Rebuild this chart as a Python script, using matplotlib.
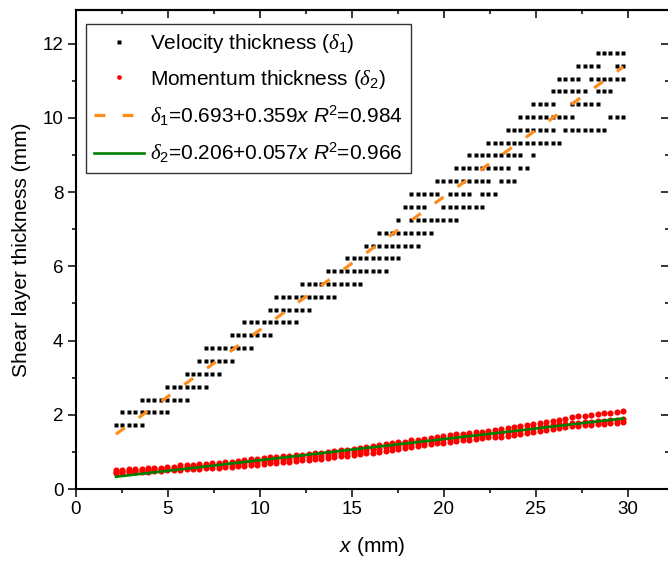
import numpy as np
import matplotlib
matplotlib.use("Agg")
import matplotlib.pyplot as plt
from matplotlib.ticker import MultipleLocator

plt.rcParams['font.family'] = ['Liberation Sans', 'DejaVu Sans']
plt.rcParams['mathtext.fontset'] = 'custom'
plt.rcParams['mathtext.rm'] = 'Liberation Sans'
plt.rcParams['mathtext.it'] = 'Liberation Serif:italic'
plt.rcParams['mathtext.sf'] = 'Liberation Sans:italic'
plt.rcParams['mathtext.bf'] = 'Liberation Sans:bold'

# ---------------- data ----------------
# streamwise sampling positions (mm), 80 columns
x_cols = np.round(2.19 + 0.349 * np.arange(80), 3)

# velocity thickness: quantized levels (mm) and column index ranges present on each level
vel_levels = [1.72, 2.07, 2.41, 2.76, 3.10, 3.45, 3.80, 4.14, 4.49, 4.83,
              5.18, 5.53, 5.87, 6.22, 6.56, 6.91, 7.26, 7.60, 7.95, 8.29,
              8.64, 8.99, 9.33, 9.68, 10.02, 10.37, 10.72, 11.06, 11.41, 11.75]
vel_segments = [
    [(0, 4)], [(1, 8)], [(4, 11)], [(8, 14)], [(11, 16)],
    [(13, 18)], [(14, 21)], [(18, 24)], [(20, 28)], [(24, 30)],
    [(25, 34)], [(29, 38)], [(33, 42)], [(36, 44)], [(39, 47)],
    [(41, 49)], [(44, 44), (46, 53)], [(45, 48), (51, 57)],
    [(46, 50), (52, 55), (57, 59)], [(50, 58), (60, 62)],
    [(53, 61), (63, 64)], [(55, 63), (65, 65)], [(58, 69)],
    [(61, 68), (70, 76)], [(63, 71), (77, 79)], [(65, 68), (71, 75)],
    [(68, 73), (75, 77)], [(69, 72), (74, 79)], [(72, 75), (78, 79)],
    [(75, 79)],
]

# momentum thickness: bottom / middle / top of the scatter in each column (mm)
mom_low = [0.43, 0.44, 0.45, 0.45, 0.46, 0.47, 0.48, 0.49, 0.50, 0.51,
           0.52, 0.53, 0.54, 0.55, 0.56, 0.57, 0.58, 0.59, 0.60, 0.62,
           0.63, 0.64, 0.66, 0.67, 0.69, 0.70, 0.72, 0.73, 0.75, 0.77,
           0.78, 0.80, 0.82, 0.84, 0.86, 0.88, 0.90, 0.92, 0.94, 0.96,
           0.98, 1.00, 1.03, 1.05, 1.08, 1.10, 1.13, 1.15, 1.18, 1.20,
           1.23, 1.25, 1.27, 1.29, 1.31, 1.33, 1.35, 1.37, 1.39, 1.40,
           1.41, 1.44, 1.46, 1.49, 1.51, 1.54, 1.57, 1.59, 1.62, 1.65,
           1.67, 1.69, 1.70, 1.72, 1.73, 1.75, 1.76, 1.77, 1.79, 1.80]
mom_mid = [0.47, 0.48, 0.49, 0.50, 0.51, 0.52, 0.53, 0.54, 0.55, 0.56,
           0.58, 0.59, 0.60, 0.61, 0.62, 0.64, 0.65, 0.66, 0.67, 0.69,
           0.71, 0.72, 0.74, 0.75, 0.77, 0.78, 0.80, 0.81, 0.83, 0.85,
           0.86, 0.88, 0.90, 0.92, 0.94, 0.96, 0.98, 1.00, 1.03, 1.05,
           1.07, 1.09, 1.12, 1.14, 1.17, 1.19, 1.22, 1.24, 1.27, 1.29,
           1.32, 1.34, 1.36, 1.38, 1.40, 1.42, 1.44, 1.46, 1.48, 1.50,
           1.51, 1.54, 1.57, 1.60, 1.62, 1.65, 1.68, 1.70, 1.73, 1.76,
           1.76, 1.78, 1.79, 1.80, 1.81, 1.83, 1.84, 1.85, 1.86, 1.88]
mom_high = [0.51, 0.52, 0.53, 0.54, 0.55, 0.56, 0.57, 0.58, 0.59, 0.60,
            0.64, 0.65, 0.66, 0.67, 0.68, 0.70, 0.71, 0.72, 0.74, 0.76,
            0.79, 0.80, 0.82, 0.83, 0.85, 0.86, 0.88, 0.89, 0.91, 0.92,
            0.94, 0.96, 0.98, 1.00, 1.02, 1.04, 1.06, 1.08, 1.11, 1.13,
            1.16, 1.18, 1.21, 1.23, 1.26, 1.28, 1.31, 1.33, 1.36, 1.38,
            1.41, 1.43, 1.45, 1.47, 1.49, 1.51, 1.53, 1.55, 1.57, 1.59,
            1.61, 1.64, 1.67, 1.70, 1.72, 1.75, 1.78, 1.81, 1.84, 1.87,
            1.90, 1.93, 1.96, 1.98, 2.00, 2.02, 2.04, 2.06, 2.08, 2.11]

# linear fits
fit1 = (0.693, 0.359)
fit2 = (0.206, 0.057)

# ---------------- figure ----------------
fig = plt.figure(figsize=(6.68, 5.63), dpi=100)
ax = fig.add_axes([0.1133, 0.1314, 0.8882, 0.8515])

vx, vy = [], []
for lev, segs in zip(vel_levels, vel_segments):
    for a, b in segs:
        for k in range(a, b + 1):
            vx.append(x_cols[k])
            vy.append(lev)

mx = np.concatenate([x_cols, x_cols, x_cols])
my = np.concatenate([mom_low, mom_mid, mom_high])

ax.plot(mx, my, linestyle='none', marker='o', ms=4.4, mec='none', mfc='#ff0000',
        zorder=3)
# vertical extent of each column's scatter (excluding the detached upper points)
ax.vlines(x_cols, mom_low, mom_mid, colors='#ff0000', lw=3.0, zorder=3)
h_red, = ax.plot([], [], linestyle='none', marker='o', ms=3.4, mec='none', mfc='#ff0000')
ax.plot(vx, vy, linestyle='none', marker='s', ms=2.8, mec='none', mfc='black', zorder=3)
h_blk, = ax.plot([], [], linestyle='none', marker='s', ms=2.8, mec='none', mfc='black')

xf = np.array([x_cols[0], x_cols[-1]])
h_or, = ax.plot(xf, fit1[0] + fit1[1] * xf, color='#ff8c1a', lw=2.3,
                linestyle=(0, (3.4, 5.4)), zorder=4)
h_gr, = ax.plot(xf, fit2[0] + fit2[1] * xf, color='#008000', lw=1.9, zorder=4)

ax.set_xlim(0, 32.25)
ax.set_ylim(0, 12.92)

ax.xaxis.set_major_locator(MultipleLocator(5))
ax.xaxis.set_minor_locator(MultipleLocator(2.5))
ax.yaxis.set_major_locator(MultipleLocator(2))
ax.yaxis.set_minor_locator(MultipleLocator(1))

for s in ax.spines.values():
    s.set_linewidth(1.5)

ax.tick_params(axis='both', which='major', direction='out', length=5.8, width=1.1,
               labelsize=13.5, pad=3)
ax.tick_params(axis='both', which='minor', direction='out', length=3.0, width=1.1)
# mirrored ticks on top and right pointing inward
axt = ax.secondary_xaxis('top')
axt.xaxis.set_major_locator(MultipleLocator(5))
axt.xaxis.set_minor_locator(MultipleLocator(2.5))
axt.tick_params(which='major', direction='in', length=5.8, width=1.1, labeltop=False)
axt.tick_params(which='minor', direction='in', length=3.0, width=1.1)
axt.spines['top'].set_linewidth(1.5)
axr = ax.secondary_yaxis('right')
axr.yaxis.set_major_locator(MultipleLocator(2))
axr.yaxis.set_minor_locator(MultipleLocator(1))
axr.tick_params(which='major', direction='in', length=5.8, width=1.1, labelright=False)
axr.tick_params(which='minor', direction='in', length=3.0, width=1.1)
axr.spines['right'].set_linewidth(1.5)

ax.set_xlabel(r'$\mathsf{x}$ (mm)', fontsize=15, labelpad=12)
ax.set_ylabel('Shear layer thickness (mm)', fontsize=15, labelpad=8)

labels = [r'Velocity thickness ($\delta_1$)',
          r'Momentum thickness ($\delta_2$)',
          r'$\delta_1$=0.693+0.359$\mathsf{x}$ $\mathsf{R}^2$=0.984',
          r'$\delta_2$=0.206+0.057$\mathsf{x}$ $\mathsf{R}^2$=0.966']
leg = ax.legend([h_blk, h_red, h_or, h_gr], labels, loc='upper left',
                bbox_to_anchor=(0.0174, 0.971), borderaxespad=0, fontsize=15,
                frameon=True, fancybox=False, edgecolor='black',
                handlelength=2.4, handletextpad=0.25, labelspacing=0.62,
                borderpad=0.4, markerscale=1.0)
leg.get_frame().set_linewidth(1.0)

fig.savefig('out.png', dpi=100)
